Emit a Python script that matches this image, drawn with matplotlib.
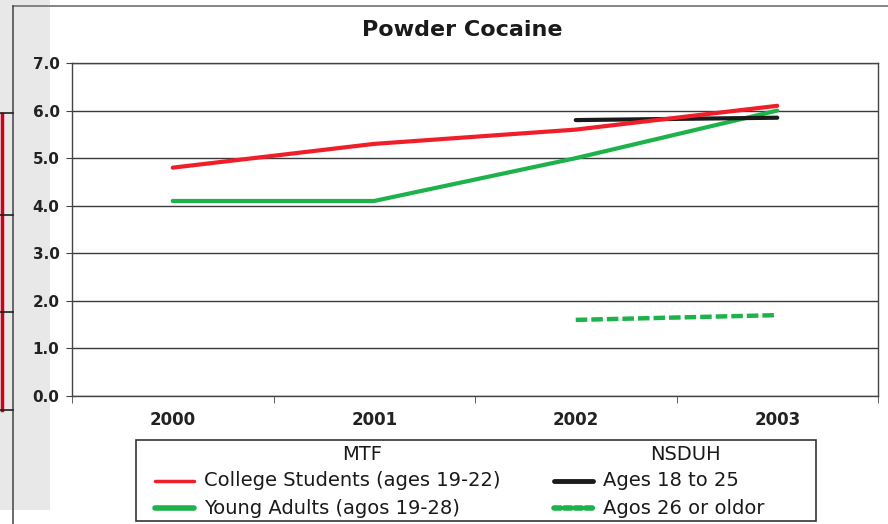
import matplotlib.pyplot as plt
from matplotlib.lines import Line2D
from matplotlib.patches import Rectangle

# dados da figura
anos = ['2000', '2001', '2002', '2003']
universitarios = [4.8, 5.3, 5.6, 6.1]      # MTF College Students (19-22)
jovens_adultos = [4.1, 4.1, 5.0, 6.0]      # MTF Young Adults (19-28)
idade_18_25 = [None, None, 5.8, 5.85]      # NSDUH 18 a 25
idade_26_mais = [None, None, 1.6, 1.7]     # NSDUH 26 ou mais
y_ticks = [0, 1, 2, 3, 4, 5, 6, 7]

vermelho = '#f01e28'
verde = '#1db34a'
preto = '#1a1a1a'
W, H = 888, 524

fig = plt.figure(figsize=(W / 100, H / 100), dpi=100)

# fundo: faixa cinza, moldura e restos da figura vizinha (coordenadas em pixels)
fundo = fig.add_axes([0, 0, 1, 1])
fundo.set_xlim(0, W)
fundo.set_ylim(H, 0)
fundo.axis('off')
fundo.add_patch(Rectangle((0, 0), 50, 510, color='#e8e8e8', lw=0))
fundo.plot([13, W], [6, 6], color='#707070', lw=1.2)
fundo.plot([13, 13], [6, H], color='#505050', lw=1.2)
fundo.plot([1.5, 1.5], [114, 410], color='#d0021b', lw=2.5)
for yy in [113, 215, 312, 410]:
    fundo.plot([0, 13], [yy, yy], color='#202020', lw=1.2)

# grafico principal
ax = fig.add_axes([72 / W, (H - 396) / H, (878 - 72) / W, (396 - 63) / H])
x = list(range(len(anos)))

ax.plot(x, universitarios, color=vermelho, lw=3, solid_capstyle='round', zorder=4)
ax.plot(x, jovens_adultos, color=verde, lw=3, solid_capstyle='round', zorder=3)
ax.plot(x[2:], idade_18_25[2:], color=preto, lw=3, solid_capstyle='round', zorder=3)
ax.plot(x[2:], idade_26_mais[2:], color=verde, lw=3.2, linestyle=(0, (2.6, 0.9)), zorder=3)

ax.set_xlim(-0.5, 3.5)
ax.set_ylim(0, 7)
ax.set_yticks(y_ticks)
ax.set_yticklabels(['%.1f' % v for v in y_ticks], fontsize=11, fontweight='bold',
                   family='DejaVu Sans', color='#222222')
ax.set_xticks(x)
ax.set_xticklabels(anos, fontsize=12, fontweight='bold', family='DejaVu Sans', color='#222222')
ax.set_xticks([-0.5, 0.5, 1.5, 2.5, 3.5], minor=True)
ax.tick_params(axis='x', which='major', length=0, pad=11)
ax.tick_params(axis='x', which='minor', length=5, direction='out', color='#444444')
ax.tick_params(axis='y', length=4, direction='out', color='#444444', pad=5)
ax.grid(axis='y', color='#3a3a3a', lw=1.0)
ax.set_axisbelow(True)
for s in ax.spines.values():
    s.set_color('#444444')
    s.set_linewidth(1.0)

fig.text(462 / W, 1 - 30 / H, 'Powder Cocaine', ha='center', va='center',
         fontsize=16, fontweight='bold', family='DejaVu Sans', color='#1a1a1a')

# legenda montada a mao
leg = fig.add_axes([135 / W, 0, (817 - 135) / W, (H - 438) / H])
leg.set_xlim(135, 817)
leg.set_ylim(H, 438)
leg.axis('off')
leg.add_patch(Rectangle((136, 440), 680, 81, fill=False, ec='#333333', lw=1.2))
leg.text(362, 455, 'MTF', ha='center', va='center', fontsize=14, color='#1a1a1a')
leg.text(685, 455, 'NSDUH', ha='center', va='center', fontsize=14, color='#1a1a1a')

itens = [
    (155, 481, vermelho, '-', 2.5, 'College Students (ages 19-22)'),
    (155, 508, verde, '-', 4, 'Young Adults (agos 19-28)'),
    (554, 481, preto, '-', 3.5, 'Ages 18 to 25'),
    (554, 508, verde, (0, (1.2, 0.7)), 4, 'Agos 26 or oldor'),
]
for x0, y0, cor, estilo, lw, rotulo in itens:
    leg.add_line(Line2D([x0, x0 + 39], [y0, y0], color=cor, linestyle=estilo, lw=lw,
                        solid_capstyle='round', dash_capstyle='round'))
    leg.text(x0 + 49, y0, rotulo, ha='left', va='center', fontsize=14, color='#1a1a1a')

fig.savefig('out.png', dpi=100)
